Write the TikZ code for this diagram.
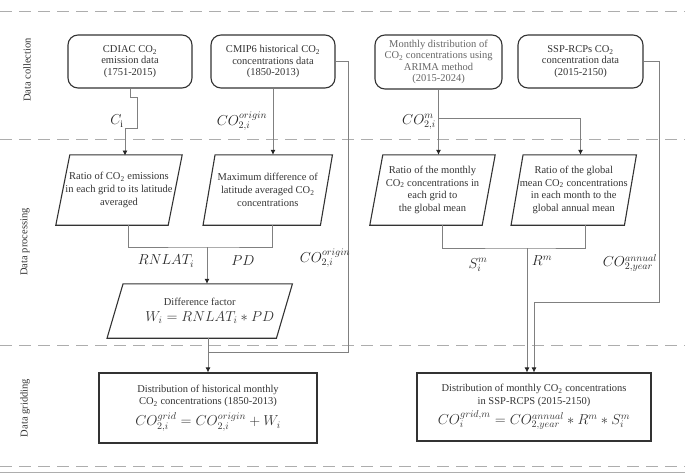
\documentclass[tikz,border=0pt]{standalone}
\usepackage{fontspec}
\setmainfont{Liberation Serif}
\usetikzlibrary{arrows.meta,calc}
\definecolor{txt}{gray}{0.2}
\definecolor{boxc}{gray}{0.2}
\definecolor{linec}{gray}{0.5}
\definecolor{dashc}{gray}{0.68}
\newcommand\COt{CO\textsubscript{2}}
\newcommand\drawpara[2]{\draw[boxline] ([xshift=#2]#1.north west) -- ([xshift=#2]#1.north east) -- ([xshift=-#2]#1.south east) -- ([xshift=-#2]#1.south west) -- cycle;}
\tikzset{
  boxline/.style={draw=boxc, line width=1.1pt},
  databox/.style={boxline, rounded corners=10pt, align=center, text=txt, font=\fontsize{10.5}{11.5}\selectfont, inner sep=0pt},
  para/.style={align=center, text=txt, font=\fontsize{10.5}{12.8}\selectfont, inner sep=0pt},
  outbox/.style={boxline, align=center, text=txt, font=\fontsize{10.5}{12.5}\selectfont, inner sep=0pt},
  conn/.style={draw=linec, line width=0.8pt},
  arr/.style={conn, -{Latex[length=5pt,width=5pt,color=black!85]}},
  lab/.style={text=black!85, font=\fontsize{14}{16}\selectfont, inner sep=0pt},
  phase/.style={rotate=90, text=txt, font=\fontsize{10.5}{12}\selectfont, inner sep=0pt},
  sepline/.style={draw=dashc, line width=0.8pt, dash pattern=on 12pt off 7pt},
}
\begin{document}
\begin{tikzpicture}[x=1pt,y=-1pt]
\useasboundingbox (0,0) rectangle (685,474);
% separators
\draw[sepline] (0,11) -- (685,11);
\draw[sepline] (0,139) -- (685,139);
\draw[sepline] (0,345) -- (685,345);
\draw[sepline] (0,466) -- (685,466);
\draw[draw=dashc, line width=0.8pt] (0,472.5) -- (685,472.5);
% phase labels
\node[phase] (ph1) at (27,70) {Data collection};
\node[phase] (ph2) at (25,242) {Data processing};
\node[phase] (ph3) at (25,408) {Data gridding};
% data collection boxes
\node[databox, minimum width=124pt, minimum height=53pt] (cdiac) at (130,61.5) {CDIAC \COt\\emission data\\(1751-2015)};
\node[databox, minimum width=124pt, minimum height=53pt] (cmip) at (273,61.5) {CMIP6 historical \COt\\concentrations data\\(1850-2013)};
\node[databox, minimum width=127pt, minimum height=54pt, text=black!60] (monthly) at (438.5,62) {Monthly distribution of\\\COt{} concentrations using\\ARIMA method\\(2015-2024)};
\node[databox, minimum width=125pt, minimum height=53pt] (ssp) at (580.5,61.5) {SSP-RCPs \COt\\concentration data\\(2015-2150)};
% processing parallelograms
\node[para, minimum width=112pt, minimum height=70pt] (p1) at (119,190) {Ratio of \COt{} emissions\\in each grid to its latitude\\averaged};
\drawpara{p1}{7pt}
\node[para, minimum width=117pt, minimum height=70pt] (p2) at (267.75,190) {Maximum difference of\\latitude averaged \COt\\concentrations};
\drawpara{p2}{6pt}
\node[para, minimum width=112pt, minimum height=70pt] (p3) at (432.5,190) {Ratio of the monthly\\\COt{} concentrations in\\each grid to\\the global mean};
\drawpara{p3}{6.5pt}
\node[para, minimum width=113pt, minimum height=70pt] (p4) at (573.75,190) {Ratio of the global\\mean \COt{} concentrations\\in each month to the\\global annual mean};
\drawpara{p4}{6pt}
\node[para, minimum width=169pt, minimum height=54pt] (diff) at (199.75,311) {Difference factor\\[3pt]{\fontsize{14}{16}\selectfont\hspace*{20pt}$W_i = RNLAT_i \ast PD$}};
\drawpara{diff}{8pt}
% gridding boxes
\node[outbox, minimum width=218pt, minimum height=70pt] (hist) at (208,408) {Distribution of historical monthly\\\COt{} concentrations (1850-2013)\\[4pt]{\fontsize{14}{16}\selectfont $CO^{grid}_{2,i} = CO^{origin}_{2,i} + W_i$}};
\node[outbox, minimum width=234pt, minimum height=68pt] (final) at (534,407) {Distribution of monthly \COt{} concentrations\\in SSP-RCPS (2015-2150)\\[3pt]{\fontsize{14}{16}\selectfont $CO^{grid,m}_{i} = CO^{annual}_{2,year} \ast R^m \ast S^m_i$}};
% connectors left
\draw[arr] (cdiac.south) -- ++(0,9) -- ++(7,0) -- ++(0,31) -- ++(-12,0) -- ++(0,27);
\draw[arr] (cmip.south) -- (cmip.south |- p2.north);
\draw[conn] (cmip.east) -- ++(13,0) |- ($(hist.north)+(0,-20)$);
\coordinate (j1) at (207,247);
\draw[conn] ([xshift=9pt]p1.south) |- (j1) -| ([xshift=4.25pt]p2.south);
\draw[arr] (j1) -- (j1 |- diff.north);
\draw[arr] (diff.south -| hist.north) -- (hist.north);
% connectors right
\draw[arr] (monthly.south) -- (monthly.south |- p3.north);
\coordinate (j2) at ($(monthly.south)+(0,29)$);
\draw[arr] (j2) -| (ssp.south |- p4.north);
\draw[arr] (ssp.east) -- ++(16,0) |- ($(final.north)+(0,-70)$) -- (final.north);
\coordinate (j3) at (527,248);
\draw[conn] ([xshift=9.5pt]p3.south) |- (j3) -| ([xshift=12pt]p4.south);
\draw[arr] (j3) -- (j3 |- final.north);
% labels
\node[lab] (lci) at (117,121) {$C_{\mathrm{i}}$};
\node[lab] (lco1) at (242,121) {$CO^{origin}_{2,i}$};
\node[lab] (lcom) at (419,122) {$CO^{m}_{2,i}$};
\node[lab] (lrn) at (166,261) {$RNLAT_i$};
\node[lab] (lpd) at (243,261) {$PD$};
\node[lab] (lco2) at (325,258) {$CO^{origin}_{2,i}$};
\node[lab] (lsm) at (478,265) {$S^m_i$};
\node[lab] (lrm) at (542,261) {$R^m$};
\node[lab] (lca) at (630,263) {$CO^{annual}_{2,year}$};
\end{tikzpicture}
\end{document}
